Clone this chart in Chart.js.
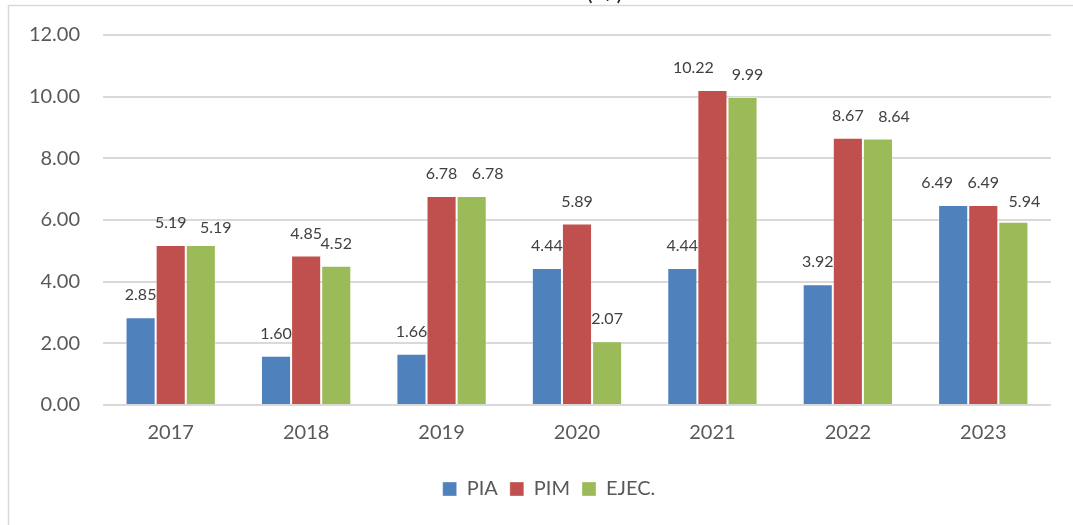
<!DOCTYPE html>
<html>
<head>
<meta charset="utf-8">
<script src="https://cdn.jsdelivr.net/npm/chart.js@4"></script>
<style>
html,body{margin:0;padding:0;background:#fff;}
canvas{display:block;}
</style>
</head>
<body>
<canvas id="c" width="1073" height="525"></canvas>
<script>
const categories = ['2017', '2018', '2019', '2020', '2021', '2022', '2023'];
const seriesNames = ['PIA', 'PIM', 'EJEC.'];
const pia  = [2.85, 1.60, 1.66, 4.44, 4.44, 3.92, 6.49];
const pim  = [5.19, 4.85, 6.78, 5.89, 10.22, 8.67, 6.49];
const ejec = [5.19, 4.52, 6.78, 2.07, 9.99, 8.64, 5.94];
const yTickValues = [0, 2, 4, 6, 8, 10, 12];
const yTickLabels = ['0.00', '2.00', '4.00', '6.00', '8.00', '10.00', '12.00'];
const titleText = 'Millones (S/)';

const colors = ['#4F81BD', '#C0504D', '#9BBB59'];
const FONT = 'Lato, "Open Sans", sans-serif';

// manual nudges of individual value labels (datasetIndex:categoryIndex -> [dx, dy])
const labelNudges = {
  '2:0': [15, 5],
  '2:2': [16, 0],
  '1:4': [-19, 0],
  '2:4': [5, 0],
  '2:5': [16, 0],
  '0:6': [-16, 0],
  '2:6': [11, 2]
};

const framePlugin = {
  id: 'frame',
  afterLayout(chart) {
    const lg = chart.legend;
    if (lg) { lg.left += 23.5; lg.right += 23.5; }
  },
  beforeDraw(chart) {
    const ctx = chart.ctx;
    ctx.save();
    ctx.fillStyle = '#fff';
    ctx.fillRect(0, 0, chart.width, chart.height);
    ctx.strokeStyle = '#d9d9d9';
    ctx.lineWidth = 1.5;
    ctx.beginPath();
    ctx.moveTo(8.5, chart.height);
    ctx.lineTo(8.5, 5.5);
    ctx.lineTo(chart.width, 5.5);
    ctx.stroke();
    // title, cut off by the top edge as in the source image
    ctx.fillStyle = '#262626';
    ctx.font = '24px ' + FONT;
    ctx.textAlign = 'right';
    ctx.textBaseline = 'alphabetic';
    ctx.fillText(titleText, 623, 0);
    ctx.restore();
  }
};

const labelPlugin = {
  id: 'valueLabels',
  afterDatasetsDraw(chart) {
    const ctx = chart.ctx;
    ctx.save();
    ctx.font = '16px ' + FONT;
    ctx.fillStyle = '#404040';
    ctx.textAlign = 'center';
    ctx.textBaseline = 'middle';
    chart.data.datasets.forEach((ds, di) => {
      const meta = chart.getDatasetMeta(di);
      meta.data.forEach((bar, i) => {
        const n = labelNudges[di + ':' + i] || [0, 0];
        ctx.fillText(ds.data[i].toFixed(2), bar.x + n[0], bar.y - 22 + n[1]);
      });
    });
    ctx.restore();
  }
};

new Chart(document.getElementById('c'), {
  type: 'bar',
  data: {
    labels: categories,
    datasets: [pia, pim, ejec].map((d, i) => ({
      label: seriesNames[i],
      data: d,
      backgroundColor: colors[i],
      borderColor: 'rgba(255,255,255,0.35)',
      borderWidth: 1,
      categoryPercentage: 0.667,
      barPercentage: 1.0
    }))
  },
  options: {
    responsive: false,
    devicePixelRatio: 1,
    animation: false,
    layout: { padding: { left: 0, right: 22, top: 34, bottom: 16 } },
    plugins: {
      tooltip: { enabled: false },
      title: { display: false },
      legend: {
        position: 'bottom',
        labels: {
          font: { family: FONT, size: 20 },
          color: '#595959',
          boxWidth: 14,
          boxHeight: 14,
          padding: 12
        }
      }
    },
    scales: {
      x: {
        grid: { display: false, drawTicks: false },
        border: { display: false },
        ticks: { font: { family: FONT, size: 20 }, color: '#595959', padding: 16 },
        afterFit(scale) { scale.height = 62; }
      },
      y: {
        min: 0, max: 12,
        grid: { color: '#d9d9d9', lineWidth: 2, drawTicks: false },
        border: { display: false },
        afterBuildTicks(scale) { scale.ticks = yTickValues.map(v => ({ value: v })); },
        ticks: {
          font: { family: FONT, size: 20 },
          color: '#595959',
          padding: 23,
          callback(v) { const k = yTickValues.indexOf(v); return k >= 0 ? yTickLabels[k] : ''; }
        },
        afterFit(scale) { scale.width = 103; }
      }
    }
  },
  plugins: [framePlugin, labelPlugin]
});
</script>
</body>
</html>
